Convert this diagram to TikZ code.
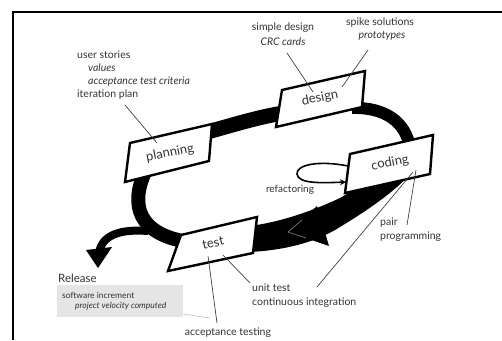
\documentclass[tikz,border=0pt]{standalone}
\usepackage{fontspec}
\setmainfont{Lato}
\usetikzlibrary{arrows.meta}
\begin{document}
\begin{tikzpicture}[x=1pt,y=-1pt,
  band/.style={draw=black, line width=#1, line cap=butt},
  box/.style={draw=black, fill=white, line width=2.4pt, line join=miter},
  lbl/.style={font=\fontsize{13}{13}\selectfont, text=black!80, inner sep=0pt},
  ann/.style={font=\fontsize{10.5}{12}\selectfont, text=black!80, inner sep=0pt, anchor=west},
  anni/.style={ann, font=\fontsize{10.5}{12}\selectfont\itshape},
  small/.style={font=\fontsize{8.5}{10}\selectfont, text=black!80, inner sep=0pt, anchor=west},
  smalli/.style={small, font=\fontsize{8.5}{10}\selectfont\itshape},
  conn/.style={draw=black!75, line width=0.7pt},
]
\useasboundingbox (0,0) rectangle (502,340);
% frame
\draw[line width=2pt] (13,340) -- (13,12) -- (502,12);

% corner coordinates of the boxes
\coordinate (pl1) at (130,143); \coordinate (pl2) at (212,124);
\coordinate (pl3) at (209,161); \coordinate (pl4) at (125,182);
\coordinate (de1) at (282,90);  \coordinate (de2) at (365,71);
\coordinate (de3) at (362,107); \coordinate (de4) at (276,127);
\coordinate (co1) at (350,154); \coordinate (co2) at (433,135);
\coordinate (co3) at (430,174); \coordinate (co4) at (345,193);
\coordinate (te1) at (181,235); \coordinate (te2) at (257,217);
\coordinate (te3) at (253,253); \coordinate (te4) at (168,271);

% loop bands
\coordinate (b1a) at (200,134); \coordinate (b1b) at (290,112);
\draw[band=15pt] (b1a) .. controls (230,126) and (260,116) .. (b1b);
\coordinate (b2a) at (352,108); \coordinate (b2b) at (410,148);
\draw[band=12pt] (b2a) .. controls (385,107) and (406,122) .. (b2b);
\coordinate (b3a) at (145,172); \coordinate (b3b) at (188,242);
\draw[band=14pt] (b3a) .. controls (130,205) and (138,234) .. (b3b);
% release branch
\coordinate (r1) at (148,231); \coordinate (r2) at (99,253);
\draw[band=8pt] (r1) .. controls (122,229) and (102,234) .. (r2);
\fill (86,250) -- (112,247) -- (98,268) -- cycle;
% big arrow coding -> test
\fill (250,226) .. controls (280,222) and (310,212) .. (340,198) -- (352,191) -- (412,172)
  .. controls (395,192) and (365,212) .. (335,230)
  .. controls (312,243) and (285,250) .. (250,252) -- cycle;
\coordinate (tip) at (288,232);
\fill (tip) -- (317,206) -- (329,246) -- cycle;
\draw[black!45, line width=0.6pt] (302,220) -- (tip) -- (306,238);

% boxes
\draw[box] (pl1) -- (pl2) -- (pl3) -- (pl4) -- cycle;
\draw[box] (de1) -- (de2) -- (de3) -- (de4) -- cycle;
\draw[box] (co1) -- (co2) -- (co3) -- (co4) -- cycle;
\draw[box] (te1) -- (te2) -- (te3) -- (te4) -- cycle;
\node[lbl, rotate=11] (plan) at (170,153) {planning};
\node[lbl, rotate=11] (des) at (320,98) {design};
\node[lbl, rotate=11] (cod) at (390,163) {coding};
\node[lbl, rotate=13] (tst) at (213,243) {test};

% refactoring loop
\coordinate (rfS) at (348,166); \coordinate (rfE) at (346,182);
\draw[line width=1.6pt, -{Stealth[length=6pt,width=6pt]}] (rfS) .. controls (318,160) and (296,165) .. (297,174)
  .. controls (298,184) and (322,183) .. (rfE);
\node[ann, anchor=center, font=\fontsize{10}{12}\selectfont] (ref) at (290,190) {refactoring};

% annotations
\node[ann] (us) at (77,55) {user stories};
\node[anni] (val) at (88,68) {values};
\node[anni] (atc) at (88,82) {acceptance test criteria};
\node[ann] (ip) at (77,95) {iteration plan};
\node[ann, anchor=center] (sd) at (283,28) {simple design};
\node[anni, anchor=center] (crc) at (283,42) {CRC cards};
\node[ann, anchor=center] (sp) at (380,23) {spike solutions};
\node[anni, anchor=center] (pro) at (382,36) {prototypes};
\node[ann] (pair) at (380,223) {pair};
\node[ann] (prog) at (380,237) {programming};
\node[ann] (ut) at (252,288) {unit test};
\node[ann] (ci) at (252,303) {continuous integration};
\node[ann, anchor=center] (at) at (228,333) {acceptance testing};
\node[ann, font=\fontsize{11.5}{12}\selectfont] (rel) at (58,278) {Release};
\fill[black!10] (57,285) rectangle (183,317);
\node[small] (si) at (62,295) {software increment};
\node[smalli] (pv) at (75,306) {project velocity computed};

% connectors
\coordinate (c1a) at (125,105); \coordinate (c1b) at (157,143);
\draw[conn] (c1a) -- (c1b);
\coordinate (c2a) at (287,53); \coordinate (c2b) at (313,92);
\draw[conn] (c2a) -- (c2b);
\coordinate (c3a) at (368,50); \coordinate (c3b) at (342,87);
\draw[conn] (c3a) -- (c3b);
\coordinate (c4a) at (407,225); \coordinate (c4b) at (416,170);
\draw[conn] (c4a) -- (c4b);
\coordinate (c5a) at (250,283); \coordinate (c5b) at (223,255);
\draw[conn] (c5a) -- (c5b);
\coordinate (c6a) at (317,287); \coordinate (c6b) at (413,172);
\draw[conn] (c6a) -- (c6b);
\coordinate (c7a) at (217,323); \coordinate (c7b) at (208,256);
\draw[conn] (c7a) -- (c7b);
\coordinate (c8a) at (183,314); \coordinate (c8b) at (210,318);
\draw[black!25, line width=0.6pt] (c8a) -- (c8b);
\end{tikzpicture}
\end{document}
